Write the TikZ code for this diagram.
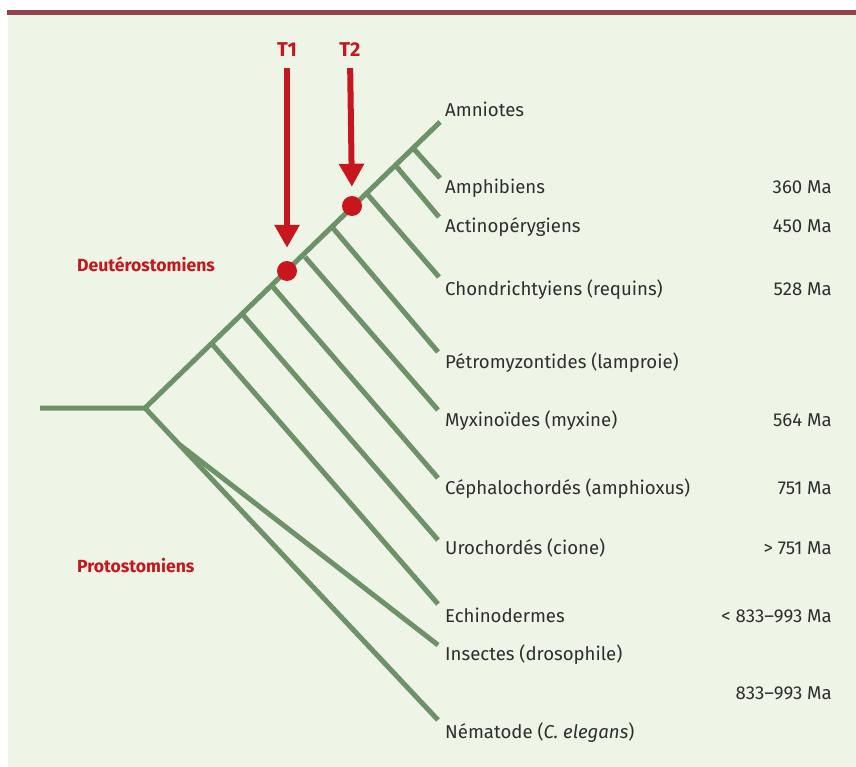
\documentclass[tikz,border=0pt]{standalone}
\usepackage{fontspec}
\setmainfont{Fira Sans}
\usetikzlibrary{arrows.meta}
\definecolor{bgc}{HTML}{EEF5E7}
\definecolor{barc}{HTML}{96404C}
\definecolor{branchc}{HTML}{6D9267}
\definecolor{markc}{HTML}{C8161E}
\definecolor{txtc}{HTML}{2E2E2E}
\begin{document}
\begin{tikzpicture}[x=1pt,y=-1pt,
  branchline/.style={draw=branchc,line width=5pt},
  taxon/.style={anchor=base west,inner sep=0pt,font=\fontsize{18.6}{20}\selectfont,text=txtc},
  agelabel/.style={anchor=base east,inner sep=0pt,font=\fontsize{18.6}{20}\selectfont,text=txtc},
  grouplabel/.style={anchor=base west,inner sep=0pt,font=\bfseries\fontsize{17.6}{19}\selectfont,text=markc},
  tlabel/.style={anchor=base,inner sep=0pt,font=\bfseries\fontsize{20}{21}\selectfont,text=markc},
  reddot/.style={circle,fill=markc,minimum size=20pt,inner sep=0pt},
  tarrow/.style={draw=markc,line width=6pt,-{Triangle[width=24pt,length=23pt]}}
]
\useasboundingbox (0,0) rectangle (856,767);
\fill[white] (0,0) rectangle (856,767);
\fill[bgc] (8,15) rectangle (856,767);
\fill[barc] (7,10) rectangle (856,15);

% tree coordinates
\coordinate (out) at (40,408);
\coordinate (root) at (145,408);
\coordinate (amn) at (440,122);
\coordinate (b1) at (413,148);  \coordinate (amph) at (440,178);
\coordinate (b2) at (396,166);  \coordinate (acti) at (439,217);
\coordinate (b3) at (368,195);  \coordinate (chon) at (439,277);
\coordinate (b4) at (332,227);  \coordinate (petr) at (438,352);
\coordinate (b5) at (305,257);  \coordinate (myxi) at (438,410);
\coordinate (b6) at (273,287);  \coordinate (ceph) at (438,478);
\coordinate (b7) at (243,315);  \coordinate (uroc) at (438,540);
\coordinate (b8) at (212,344);  \coordinate (echi) at (438,604);
\coordinate (pr) at (180,445);  \coordinate (inse) at (438,645);
\coordinate (nema) at (438,720);

\draw[branchline] (out) -- (root) -- (amn);
\draw[branchline] (root) -- (nema);
\draw[branchline] (pr) -- (inse);
\draw[branchline] (b1) -- (amph);
\draw[branchline] (b2) -- (acti);
\draw[branchline] (b3) -- (chon);
\draw[branchline] (b4) -- (petr);
\draw[branchline] (b5) -- (myxi);
\draw[branchline] (b6) -- (ceph);
\draw[branchline] (b7) -- (uroc);
\draw[branchline] (b8) -- (echi);

% markers
\node[reddot] (d1) at (287,271) {};
\node[reddot] (d2) at (352,206) {};
\node[tlabel] (t1) at (287,57) {T1};
\node[tlabel] (t2) at (350,57) {T2};
\draw[tarrow,shorten <=11pt,shorten >=13pt] (t1.south) -- (d1.north);
\draw[tarrow,shorten <=11pt,shorten >=9pt] (t2.south) -- (d2.north);

% group labels
\node[grouplabel] (deut) at (77,272) {Deutérostomiens};
\node[grouplabel] (prot) at (77,572) {Protostomiens};

% taxa
\node[taxon] (l1) at (445,117) {Amniotes};
\node[taxon] (l2) at (445,194) {Amphibiens};
\node[taxon] (l3) at (445,233) {Actinopérygiens};
\node[taxon] (l4) at (445,295) {Chondrichtyiens (requins)};
\node[taxon] (l5) at (445,368) {Pétromyzontides (lamproie)};
\node[taxon] (l6) at (445,426) {Myxinoïdes (myxine)};
\node[taxon] (l7) at (445,494) {Céphalochordés (amphioxus)};
\node[taxon] (l8) at (445,554) {Urochordés (cione)};
\node[taxon] (l9) at (445,622) {Echinodermes};
\node[taxon] (l10) at (445,660) {Insectes (drosophile)};
\node[taxon] (l11) at (445,738) {Nématode (\textit{C. elegans})};

% ages
\node[agelabel] (a2) at (832,194) {360 Ma};
\node[agelabel] (a3) at (832,233) {450 Ma};
\node[agelabel] (a4) at (832,295) {528 Ma};
\node[agelabel] (a6) at (832,426) {564 Ma};
\node[agelabel] (a7) at (832,494) {751 Ma};
\node[agelabel] (a8) at (832,554) {> 751 Ma};
\node[agelabel] (a9) at (832,622) {< 833–993 Ma};
\node[agelabel] (a10) at (832,699) {833–993 Ma};
\end{tikzpicture}
\end{document}
